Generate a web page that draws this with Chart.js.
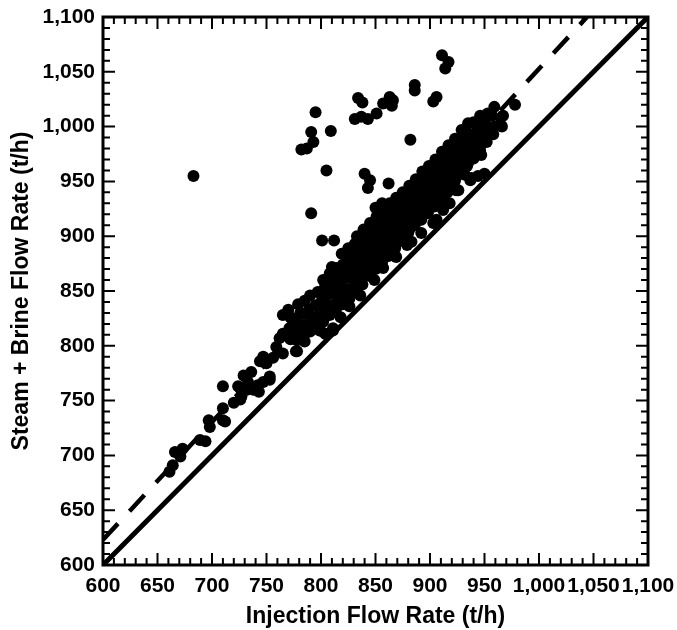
<!DOCTYPE html>
<html><head><meta charset="utf-8">
<script src="https://cdn.jsdelivr.net/npm/chart.js@4.4.0/dist/chart.umd.min.js"></script>
<style>html,body{margin:0;padding:0;background:#fff;}canvas{display:block;}</style>
</head><body>
<canvas id="c" width="677" height="630"></canvas>
<script>
const xTickValues = [600,650,700,750,800,850,900,950,1000,1050,1100];
const yTickValues = [600,650,700,750,800,850,900,950,1000,1050,1100];
const xTitle = 'Injection Flow Rate (t/h)';
const yTitle = 'Steam + Brine Flow Rate (t/h)';

// reference lines: [injection, steam+brine]
const identityLine = [[600,600],[1100,1100]];
const offsetLine = [[600,623],[1044,1100]];

// lower tail of the data
const tailPoints = [
[661,685],[664,691],[666,703],[671,699],[673,706],[689,714],[694,713],[697,732],[698,726],
[710,743],[710,763],[712,731],[710,732],[720,748],[726,751],[726,761],[727,754],[729,773],
[724,763],[732,760],[733,767],[738,760],[738,762],[743,758],[742,764],[736,776],[744,786],
[747,790],[747,767],[750,784],[753,769],[753,772],[756,789],[759,799],[762,807],[765,811],
[765,793],[765,828],[772,826],[778,795],[778,816],[781,830],[787,816],[792,824],[799,814],
[804,811],[811,814]
];

// main band
const bandPoints = [
[772,806],[771,816],[773,825],[770,833],
[778,805],[779,814],[777,823],[779,838],
[784,809],[785,819],[783,829],[785,841],
[790,813],[791,823],[789,833],[790,846],
[796,817],[797,827],[795,837],[797,849],
[802,822],[803,832],[801,842],[803,852],[802,860],
[808,828],[809,837],[807,847],[809,856],[808,866],
[814,834],[815,844],[813,853],[815,862],[814,871],
[820,838],[821,847],[819,856],[821,865],[820,874],[819,884],
[826,843],[827,852],[825,862],[827,871],[826,880],[825,889],
[832,850],[833,858],[831,866],[833,875],[832,884],[831,893],[833,900],
[838,856],[839,864],[837,871],[839,879],[838,888],[837,897],[839,906],
[844,864],[845,869],[843,877],[845,885],[844,894],[843,903],[845,912],
[850,870],[851,875],[849,883],[851,891],[850,900],[849,909],[851,918],[850,926],
[856,876],[857,881],[855,889],[857,897],[856,906],[855,915],[857,924],[856,930],
[862,882],[863,887],[861,895],[863,903],[862,912],[861,921],[863,930],
[868,889],[869,893],[867,901],[869,909],[868,918],[867,927],[869,935],
[874,896],[875,900],[873,907],[875,915],[874,924],[873,932],[875,940],
[880,903],[881,906],[879,913],[881,920],[880,929],[879,938],[881,946],
[886,910],[887,913],[885,919],[887,926],[886,935],[885,944],[887,952],
[892,915],[893,920],[891,925],[893,932],[892,941],[891,950],[893,959],
[898,921],[899,925],[897,931],[899,938],[898,947],[897,956],[899,964],
[904,927],[905,931],[903,937],[905,944],[904,953],[903,962],[905,970],
[910,933],[911,937],[909,943],[911,950],[910,959],[909,968],[911,977],
[916,940],[917,943],[915,949],[917,957],[916,966],[915,975],[917,983],
[922,948],[923,951],[921,956],[923,964],[922,973],[921,982],[923,989],
[928,957],[929,960],[927,964],[929,971],[928,980],[927,989],[929,997],
[934,964],[935,967],[933,971],[935,978],[934,987],[933,996],[935,1003],
[940,971],[941,977],[939,985],[941,994],[940,1004],
[946,978],[947,984],[945,992],[947,1001],[946,1010],
[952,986],[953,993],[951,1002],[953,1012],
[958,993],[959,1000],[957,1010],[959,1018],
[964,1001],[965,1008],
[777,795],[785,804],[790,814],[799,814],[804,811],[811,816],[818,826],[826,836],[836,846],
[849,860],[857,871],[869,881],[879,892],[883,895],[892,903],[903,912],[906,915],[912,924],
[918,930],[924,942],[926,942],[932,956],[937,951],[944,955],[950,957],[947,974],[938,953]
];

// scattered high readings
const outlierPoints = [
[683,955],[795,1013],[791,995],[793,986],[782,979],[787,980],[809,996],[805,960],[791,921],
[801,896],[812,896],[810,872],[911,1065],[917,1059],[914,1053],[886,1038],[886,1033],
[906,1027],[903,1023],[834,1026],[838,1022],[863,1027],[866,1024],[865,1019],[857,1021],
[851,1012],[831,1007],[837,1009],[843,1007],[882,988],[840,957],[845,951],[843,944],
[862,948],[978,1020],[967,1010],[966,1000]
];

const toXY = a => a.map(p => ({x: p[0], y: p[1]}));
const FONT = "'Liberation Sans', Arial, Helvetica, sans-serif";

const framePlugin = {
  id: 'frame',
  afterDraw(chart) {
    const {ctx, chartArea: a, scales: {x, y}} = chart;
    ctx.save();
    ctx.strokeStyle = '#000';
    ctx.lineWidth = 2;
    ctx.beginPath();
    for (let v = x.min; v <= x.max; v += 10) {
      const px = x.getPixelForValue(v);
      const len = (v % 50 === 0) ? 12 : 7;
      ctx.moveTo(px, a.bottom); ctx.lineTo(px, a.bottom - len);
      ctx.moveTo(px, a.top); ctx.lineTo(px, a.top + len);
    }
    for (let v = y.min; v <= y.max; v += 10) {
      const py = y.getPixelForValue(v);
      const len = (v % 50 === 0) ? 12 : 7;
      ctx.moveTo(a.left, py); ctx.lineTo(a.left + len, py);
      ctx.moveTo(a.right, py); ctx.lineTo(a.right - len, py);
    }
    ctx.stroke();
    ctx.lineWidth = 3;
    ctx.strokeRect(a.left, a.top, a.right - a.left, a.bottom - a.top);
    ctx.restore();
  }
};

const noPad = s => { s.paddingTop = 0; s.paddingBottom = 0; s.paddingLeft = 0; s.paddingRight = 0; };

new Chart(document.getElementById('c'), {
  type: 'scatter',
  data: {
    datasets: [
      {data: toXY(identityLine), showLine: true, borderColor: '#000', borderWidth: 5, pointRadius: 0},
      {data: toXY(offsetLine), showLine: true, borderColor: '#000', borderWidth: 4.5, borderDash: [22, 17], pointRadius: 0},
      {data: toXY([...tailPoints, ...bandPoints, ...outlierPoints]), backgroundColor: '#000', borderColor: '#000', pointRadius: 6, borderWidth: 0}
    ]
  },
  options: {
    responsive: false, animation: false, devicePixelRatio: 1,
    layout: {padding: {top: 17, right: 29, bottom: 0, left: 0}},
    plugins: {legend: {display: false}, tooltip: {enabled: false}},
    scales: {
      x: {
        type: 'linear', min: 600, max: 1100,
        grid: {display: false, drawTicks: false}, border: {display: false},
        afterBuildTicks: s => { s.ticks = xTickValues.map(v => ({value: v})); },
        afterFit: s => { s.height = 65; noPad(s); },
        ticks: {color: '#000', font: {family: FONT, weight: 'bold', size: 21}, padding: 9, maxRotation: 0, autoSkip: false,
                callback: v => Number(v).toLocaleString('en-US')},
        title: {display: true, text: xTitle, color: '#000', font: {family: FONT, weight: 'bold', size: 23}, padding: {top: 0, bottom: 0}}
      },
      y: {
        type: 'linear', min: 600, max: 1100,
        grid: {display: false, drawTicks: false}, border: {display: false},
        afterBuildTicks: s => { s.ticks = yTickValues.map(v => ({value: v})); },
        afterFit: s => { s.width = 103; noPad(s); },
        ticks: {color: '#000', font: {family: FONT, weight: 'bold', size: 21}, padding: 8, autoSkip: false,
                callback: v => Number(v).toLocaleString('en-US')},
        title: {display: true, text: yTitle, color: '#000', font: {family: FONT, weight: 'bold', size: 23}, padding: {top: 8, bottom: 0}}
      }
    }
  },
  plugins: [framePlugin]
});
</script>
</body></html>
